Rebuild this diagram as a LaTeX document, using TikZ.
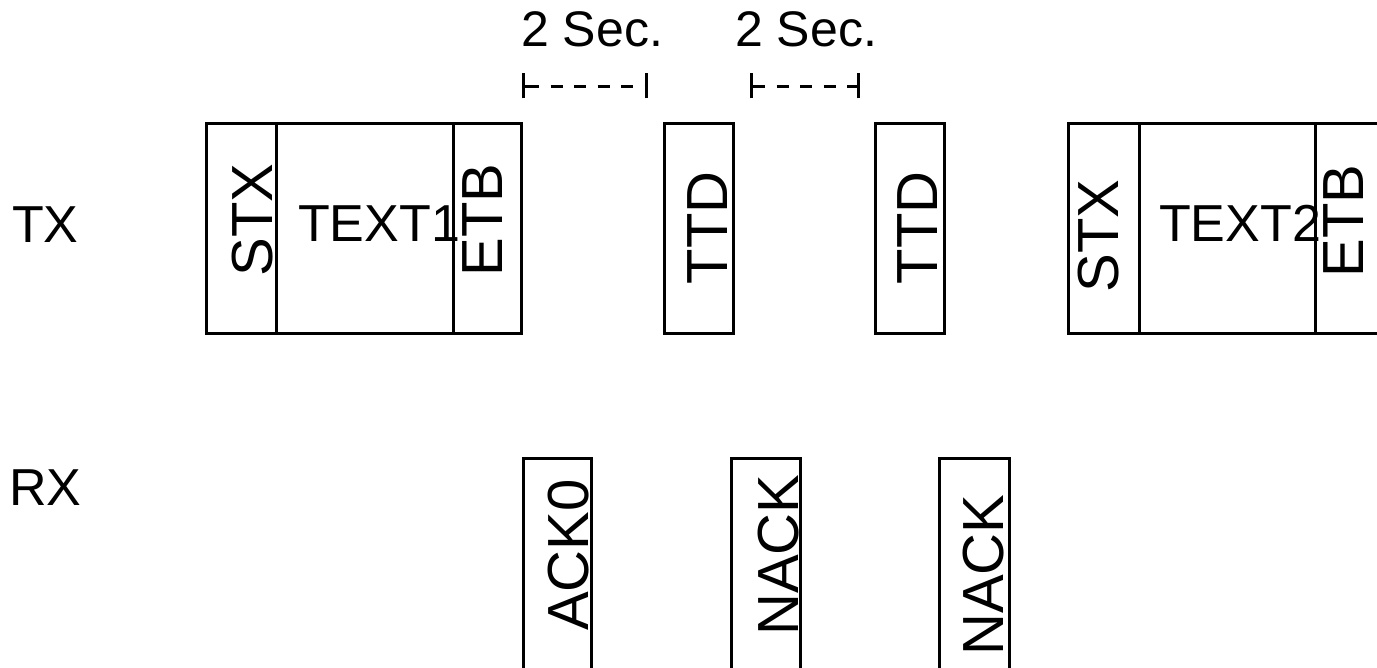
\documentclass[tikz,border=0pt]{standalone}
\usepackage{fontspec}
\setmainfont{Liberation Sans}
\begin{document}
\begin{tikzpicture}[x=1pt,y=-1pt,
  box/.style={draw, line width=3pt},
  lbl/.style={inner sep=0pt, font=\fontsize{52}{60}\selectfont},
  seclbl/.style={inner sep=0pt, font=\fontsize{50}{58}\selectfont, anchor=base west},
  vlbl/.style={inner sep=0pt, font=\fontsize{58}{66}\selectfont, rotate=90, anchor=base},
  dimline/.style={line width=3pt, dash pattern=on 12pt off 11.5pt},
  dimtick/.style={line width=3pt}]
\clip (0,0) rectangle (1377,668);
\fill[white] (0,0) rectangle (1377,668);

% TX row boxes
\draw[box] (206.5,123.5) rectangle (521.5,333.5);
\draw[box] (276.5,123.5) -- (276.5,333.5);
\draw[box] (453.5,123.5) -- (453.5,333.5);
\draw[box] (664.5,123.5) rectangle (733.5,333.5);
\draw[box] (875.5,123.5) rectangle (944.5,333.5);
\draw[box] (1068.5,123.5) rectangle (1400,333.5);
\draw[box] (1139.5,123.5) -- (1139.5,333.5);
\draw[box] (1315,123.5) -- (1315,333.5);

% RX row boxes
\draw[box] (523.5,700) rectangle (591.5,458.5);
\draw[box] (731.5,700) rectangle (800.5,458.5);
\draw[box] (939.5,700) rectangle (1009.5,458.5);

% row labels
\node[lbl, anchor=base west] (tx) at (12,243) {TX};
\node[lbl, anchor=base west] (rx) at (9,505) {RX};

% time labels
\node[seclbl] (sec1) at (521,47) {2 Sec.};
\node[seclbl] (sec2) at (735,47) {2 Sec.};

% dimension bars
\coordinate (d1a) at (523.5,86.5);
\coordinate (d1b) at (646.5,86.5);
\coordinate (d2a) at (751.5,86.5);
\coordinate (d2b) at (858.5,86.5);
\draw[dimline, dash phase=20pt] (d1a) -- (d1b);
\draw[dimline, dash phase=22pt] (d2a) -- (d2b);
\draw[dimtick] ([yshift=-12pt]d1a) -- ([yshift=13pt]d1a);
\draw[dimtick] ([yshift=-12pt]d1b) -- ([yshift=13pt]d1b);
\draw[dimtick] ([yshift=-12pt]d2a) -- ([yshift=13pt]d2a);
\draw[dimtick] ([yshift=-12pt]d2b) -- ([yshift=13pt]d2b);
\draw[dimline] (d1a) -- ([xshift=12pt]d1a);
\draw[dimline] (d2a) -- ([xshift=12pt]d2a);

% TX texts
\node[vlbl] (stx1) at (272,220) {STX};
\node[lbl, anchor=base] (text1) at (379,242) {TEXT1};
\node[vlbl] (etb1) at (502,220) {ETB};
\node[vlbl] (ttd1) at (727,228) {TTD};
\node[vlbl] (ttd2) at (937,228) {TTD};
\node[vlbl] (stx2) at (1118,236) {STX};
\node[lbl, anchor=base] (text2) at (1240,242) {TEXT2};
\node[vlbl] (etb2) at (1363,221) {ETB};

% RX texts
\node[vlbl] (ack0) at (588,555) {ACK0};
\node[vlbl] (nack1) at (798,555) {NACK};
\node[vlbl] (nack2) at (1003,575) {NACK};
\end{tikzpicture}
\end{document}
